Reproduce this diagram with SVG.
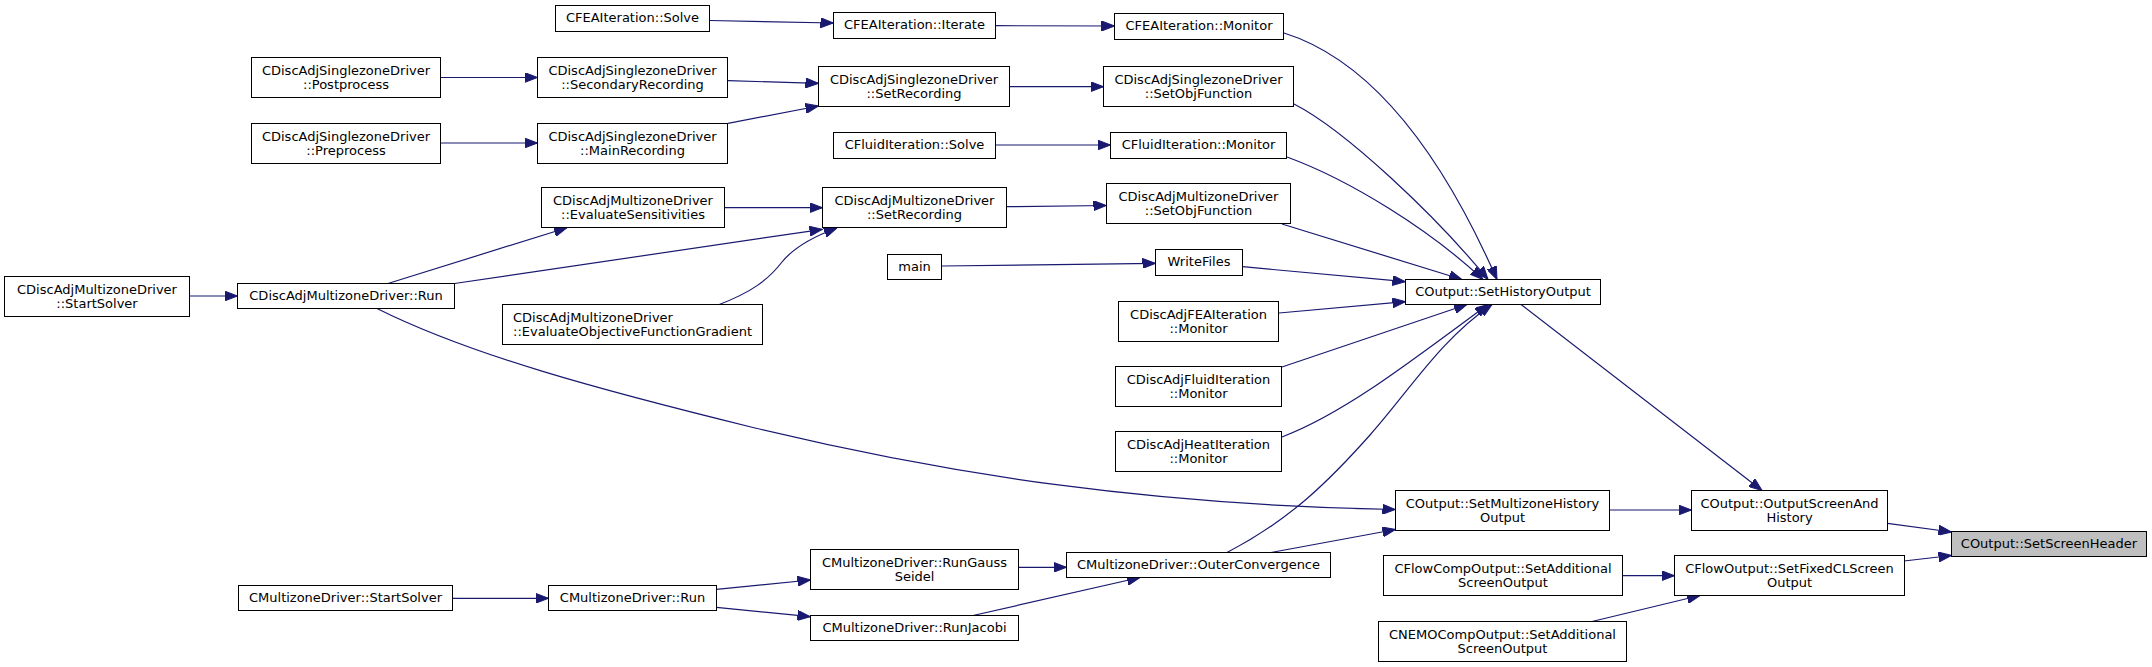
<svg xmlns="http://www.w3.org/2000/svg" width="2152" height="667" viewBox="0 0 2152 667">
<style>
.n rect{fill:#fff;stroke:#000;stroke-width:1}
.root rect{fill:#bfbfbf}
.n text{font-family:"DejaVu Sans","Liberation Sans",sans-serif;font-size:13px;fill:#000;text-anchor:middle}
.n text.l{text-anchor:start}
#edges path{fill:none;stroke:#191970;stroke-width:1.2;marker-end:url(#ah)}
</style>
<defs>
<marker id="ah" viewBox="0 0 13 10" refX="13" refY="5" markerWidth="13" markerHeight="10" markerUnits="userSpaceOnUse" orient="auto">
<path d="M0,0 L13,5 L0,10 z" fill="#191970" stroke="#191970" stroke-width="1"/>
</marker>
</defs>
<rect x="0" y="0" width="2152" height="667" fill="#fff"/>
<g id="edges">
<path d="M710,20.5 L833.5,23"/>
<path d="M996,25.7 L1114.5,26"/>
<path d="M1284,33 C1370,60 1440,150 1497,279.5"/>
<path d="M728,80.7 L818.5,83.3"/>
<path d="M728,123.3 L818.5,106"/>
<path d="M441,77.5 L537.5,77.5"/>
<path d="M441,143 L537.5,143"/>
<path d="M1010,86.7 L1103.5,86.7"/>
<path d="M1294,104 C1345,130 1435,215 1488,279.5"/>
<path d="M996,145 L1110.5,145"/>
<path d="M1287,157 C1350,180 1430,230 1483,279.5"/>
<path d="M724.5,207.7 L822.5,207.7"/>
<path d="M190,296 L237.5,296"/>
<path d="M388,283.5 L567,227.7"/>
<path d="M454.5,283.5 L822.5,229.3"/>
<path d="M718,305 C752,292 768,280 782,262 C795,246 815,236 837,228"/>
<path d="M1007,206.7 L1106.5,205.5"/>
<path d="M1282,224 L1462,279.5"/>
<path d="M942,266 L1155.5,263.3"/>
<path d="M1242.5,266.7 L1405.5,281.7"/>
<path d="M1279,313 L1405.5,301.7"/>
<path d="M1282,367 L1467,304.5"/>
<path d="M1282,437 C1340,415 1400,370 1488,304.5"/>
<path d="M1227,552.5 C1290,520 1330,480 1370,435 C1410,390 1440,340 1492,304.5"/>
<path d="M377,308.5 C470,355 600,390 755,428 C950,475 1150,505 1395.5,509.5"/>
<path d="M1271,552.5 L1395.5,529.5"/>
<path d="M453,598.3 L548.5,598.3"/>
<path d="M716.5,589.3 L810.5,580"/>
<path d="M716.5,607.3 L810.5,616.7"/>
<path d="M1019,567.3 L1066.5,567.3"/>
<path d="M973,615.5 L1140,577.5"/>
<path d="M1521,304.5 L1762,490.5"/>
<path d="M1610,510 L1691.5,510"/>
<path d="M1887.5,523.3 L1951.5,532"/>
<path d="M1904,561 L1951.5,555.5"/>
<path d="M1622.5,575.7 L1674.5,575.7"/>
<path d="M1592,621.5 L1700,595.5"/>
</g>
<g id="n1" class="n"><rect x="555.5" y="5.5" width="154" height="26"/><text x="632.5" y="22">CFEAIteration::Solve</text></g>
<g id="n2" class="n"><rect x="833.5" y="12.5" width="162" height="26"/><text x="914.5" y="29">CFEAIteration::Iterate</text></g>
<g id="n3" class="n"><rect x="1114.5" y="13.5" width="169" height="26"/><text x="1199" y="30">CFEAIteration::Monitor</text></g>
<g id="n4" class="n"><rect x="251.5" y="57.5" width="189" height="40"/><text x="346" y="74.9">CDiscAdjSinglezoneDriver</text><text x="346" y="89.3">::Postprocess</text></g>
<g id="n5" class="n"><rect x="251.5" y="123.5" width="189" height="40"/><text x="346" y="140.9">CDiscAdjSinglezoneDriver</text><text x="346" y="155.3">::Preprocess</text></g>
<g id="n6" class="n"><rect x="537.5" y="57.5" width="190" height="40"/><text x="632.5" y="74.9">CDiscAdjSinglezoneDriver</text><text x="632.5" y="89.3">::SecondaryRecording</text></g>
<g id="n7" class="n"><rect x="537.5" y="123.5" width="190" height="40"/><text x="632.5" y="140.9">CDiscAdjSinglezoneDriver</text><text x="632.5" y="155.3">::MainRecording</text></g>
<g id="n8" class="n"><rect x="818.5" y="66.5" width="191" height="40"/><text x="914" y="83.9">CDiscAdjSinglezoneDriver</text><text x="914" y="98.3">::SetRecording</text></g>
<g id="n9" class="n"><rect x="1103.5" y="66.5" width="190" height="40"/><text x="1198.5" y="83.9">CDiscAdjSinglezoneDriver</text><text x="1198.5" y="98.3">::SetObjFunction</text></g>
<g id="n10" class="n"><rect x="833.5" y="132.5" width="162" height="26"/><text x="914.5" y="149">CFluidIteration::Solve</text></g>
<g id="n11" class="n"><rect x="1110.5" y="132.5" width="176" height="26"/><text x="1198.5" y="149">CFluidIteration::Monitor</text></g>
<g id="n12" class="n"><rect x="541.5" y="187.5" width="183" height="40"/><text x="633" y="204.9">CDiscAdjMultizoneDriver</text><text x="633" y="219.3">::EvaluateSensitivities</text></g>
<g id="n13" class="n"><rect x="822.5" y="187.5" width="184" height="40"/><text x="914.5" y="204.9">CDiscAdjMultizoneDriver</text><text x="914.5" y="219.3">::SetRecording</text></g>
<g id="n14" class="n"><rect x="1106.5" y="183.5" width="184" height="40"/><text x="1198.5" y="200.9">CDiscAdjMultizoneDriver</text><text x="1198.5" y="215.3">::SetObjFunction</text></g>
<g id="n15" class="n"><rect x="887.5" y="254.5" width="54" height="25"/><text x="914.5" y="270.6">main</text></g>
<g id="n16" class="n"><rect x="1155.5" y="249.5" width="87" height="26"/><text x="1199" y="266">WriteFiles</text></g>
<g id="n17" class="n"><rect x="1405.5" y="279.5" width="195" height="25"/><text x="1503" y="295.6">COutput::SetHistoryOutput</text></g>
<g id="n18" class="n"><rect x="4.5" y="276.5" width="185" height="40"/><text x="97" y="293.9">CDiscAdjMultizoneDriver</text><text x="97" y="308.3">::StartSolver</text></g>
<g id="n19" class="n"><rect x="237.5" y="283.5" width="217" height="25"/><text x="346" y="299.6">CDiscAdjMultizoneDriver::Run</text></g>
<g id="n20" class="n"><rect x="502.5" y="304.5" width="260" height="40"/><text class="l" x="513" y="321.9">CDiscAdjMultizoneDriver</text><text class="l" x="513" y="336.3">::EvaluateObjectiveFunctionGradient</text></g>
<g id="n21" class="n"><rect x="1118.5" y="301.5" width="160" height="40"/><text x="1198.5" y="318.9">CDiscAdjFEAIteration</text><text x="1198.5" y="333.3">::Monitor</text></g>
<g id="n22" class="n"><rect x="1115.5" y="366.5" width="166" height="40"/><text x="1198.5" y="383.9">CDiscAdjFluidIteration</text><text x="1198.5" y="398.3">::Monitor</text></g>
<g id="n23" class="n"><rect x="1115.5" y="431.5" width="166" height="40"/><text x="1198.5" y="448.9">CDiscAdjHeatIteration</text><text x="1198.5" y="463.3">::Monitor</text></g>
<g id="n24" class="n"><rect x="1395.5" y="490.5" width="214" height="40"/><text x="1502.5" y="507.9">COutput::SetMultizoneHistory</text><text x="1502.5" y="522.3">Output</text></g>
<g id="n25" class="n"><rect x="1691.5" y="490.5" width="196" height="40"/><text x="1789.5" y="507.9">COutput::OutputScreenAnd</text><text x="1789.5" y="522.3">History</text></g>
<g id="n26" class="n root"><rect x="1951.5" y="531.5" width="195" height="25"/><text x="2049" y="547.6">COutput::SetScreenHeader</text></g>
<g id="n27" class="n"><rect x="238.5" y="585.5" width="214" height="25"/><text x="345.5" y="601.6">CMultizoneDriver::StartSolver</text></g>
<g id="n28" class="n"><rect x="548.5" y="585.5" width="168" height="25"/><text x="632.5" y="601.6">CMultizoneDriver::Run</text></g>
<g id="n29" class="n"><rect x="810.5" y="549.5" width="208" height="40"/><text x="914.5" y="566.9">CMultizoneDriver::RunGauss</text><text x="914.5" y="581.3">Seidel</text></g>
<g id="n30" class="n"><rect x="810.5" y="615.5" width="208" height="25"/><text x="914.5" y="631.6">CMultizoneDriver::RunJacobi</text></g>
<g id="n31" class="n"><rect x="1066.5" y="552.5" width="264" height="25"/><text x="1198.5" y="568.6">CMultizoneDriver::OuterConvergence</text></g>
<g id="n32" class="n"><rect x="1383.5" y="555.5" width="239" height="40"/><text x="1503" y="572.9">CFlowCompOutput::SetAdditional</text><text x="1503" y="587.3">ScreenOutput</text></g>
<g id="n33" class="n"><rect x="1674.5" y="555.5" width="230" height="40"/><text x="1789.5" y="572.9">CFlowOutput::SetFixedCLScreen</text><text x="1789.5" y="587.3">Output</text></g>
<g id="n34" class="n"><rect x="1378.5" y="621.5" width="248" height="40"/><text x="1502.5" y="638.9">CNEMOCompOutput::SetAdditional</text><text x="1502.5" y="653.3">ScreenOutput</text></g>
</svg>
